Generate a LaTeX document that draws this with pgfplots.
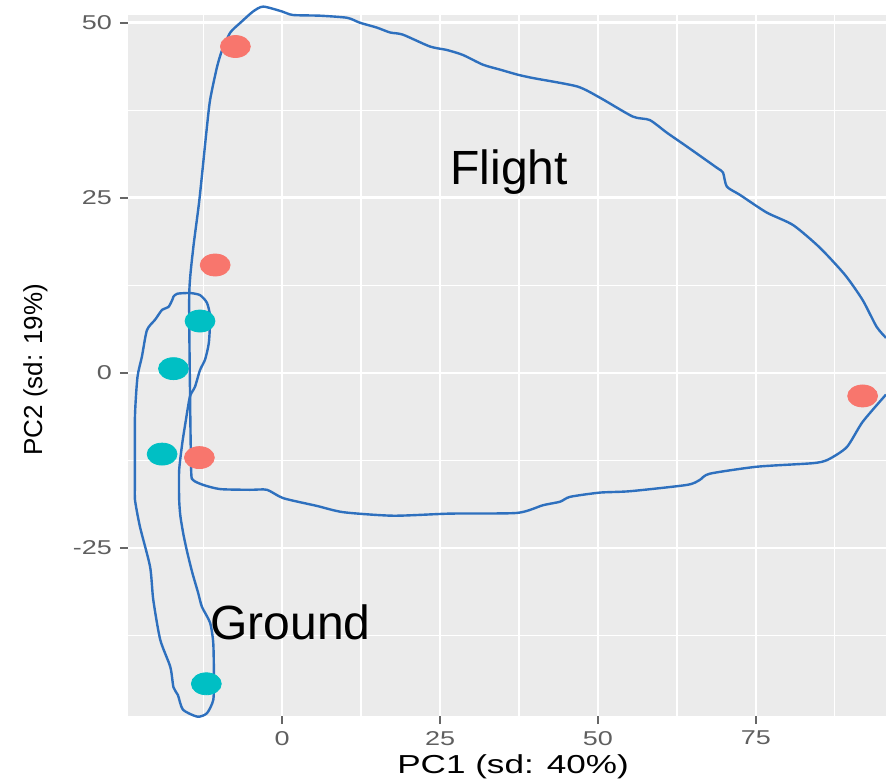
\documentclass[border=0pt]{standalone}
\usepackage{fontspec}
\setmainfont{Liberation Sans}
\newfontfamily\widefont{Liberation Sans}[FakeStretch=1.35]
\usepackage{pgfplots}
\pgfplotsset{compat=1.18}

\definecolor{panelbg}{RGB}{235,235,235}
\definecolor{flightred}{RGB}{248,118,109}
\definecolor{groundteal}{RGB}{0,191,196}
\definecolor{penblue}{RGB}{46,112,190}
\definecolor{ticktext}{RGB}{95,95,95}

\begin{document}
\begin{tikzpicture}
\begin{axis}[
  scale only axis,
  width=379pt, height=350.5pt,
  xmin=-24.4, xmax=95.6,
  ymin=-49.0, ymax=51.1,
  clip=false,
  axis background/.style={fill=panelbg},
  axis line style={draw=none},
  xtick={0,25,50,75}, xticklabels={0,25,50,75},
  ytick={-25,0,25,50}, yticklabels={-25,0,25,50},
  minor xtick={-12.5,12.5,37.5,62.5,87.5},
  minor ytick={-37.5,-12.5,12.5,37.5},
  grid=both,
  major grid style={white, line width=1.3pt},
  minor grid style={white, line width=0.6pt},
  tick pos=left, tick align=outside,
  major tick length=4pt, minor tick length=0pt,
  tick style={black!60, line width=0.9pt},
  ticklabel style={font=\widefont\fontsize{10}{12}\selectfont, text=ticktext},
  yticklabel style={xshift=-0.5pt},
  xlabel={PC1 (sd: 40\%)},
  ylabel={PC2 (sd: 19\%)},
  xlabel style={at={(axis description cs:0.508,0)}, anchor=north, inner sep=0pt,
    yshift=-19pt, font=\widefont\fontsize{13}{15}\selectfont},
  ylabel style={at={(axis description cs:-0.1055,0.494)}, anchor=south, inner sep=0pt,
    font=\fontsize{13}{15}\selectfont},
]
\coordinate (panelsw) at (rel axis cs:0,0);
\coordinate (panelne) at (rel axis cs:1,1);

% Flight samples
\addplot[only marks, mark=*, mark size=5.5pt, color=flightred, mark options={draw=none, fill=flightred, xscale=1.36}]
  coordinates {(-7.4,46.6) (-10.6,15.4) (-13.1,-12.1) (91.9,-3.3)};
% Ground samples
\addplot[only marks, mark=*, mark size=5.5pt, color=groundteal, mark options={draw=none, fill=groundteal, xscale=1.36}]
  coordinates {(-13.0,7.4) (-17.2,0.6) (-19.0,-11.6) (-12.0,-44.4)};

% hand-drawn outline round the flight group (runs off the right edge)
\addplot[penblue, line width=1.2pt, smooth, tension=0.4, no marks]
  coordinates {
  (95.6,-3.1) (91.9,-7.0) (89.4,-10.6) (86.4,-12.4) (84.0,-12.9) (75.2,-13.4)
  (67.7,-14.4) (66.1,-15.3) (64.1,-16.0) (55.1,-16.9) (50.3,-17.1) (45.6,-17.7)
  (44.0,-18.4) (41.3,-18.9) (37.2,-20.0) (26.6,-20.1) (17.6,-20.4) (9.7,-19.9)
  (5.5,-19.0) (0.2,-17.9) (-2.4,-16.7) (-5.1,-16.7) (-9.8,-16.6) (-12.5,-16.0)
  (-14.1,-15.3) (-14.4,-13.9) (-14.6,-1.4) (-14.7,11.4) (-14.1,17.6) (-13.1,24.7)
  (-12.0,34.3) (-11.4,39.0) (-10.3,43.7) (-9.5,46.1) (-8.2,48.6) (-6.6,50.0)
  (-4.6,51.6) (-3.0,52.3) (0.0,51.6) (1.7,51.1) (6.0,51.0) (10.3,50.7)
  (12.3,50.0) (15.0,49.3) (17.1,48.6) (19.1,48.3) (23.4,46.6) (26.1,46.1)
  (28.6,45.4) (31.8,44.0) (34.5,43.3) (37.2,42.6) (39.7,42.1) (46.7,40.9)
  (50.3,39.3) (55.5,36.6) (58.2,36.1) (60.9,34.3) (64.1,32.3) (68.8,29.3)
  (69.8,28.6) (70.4,26.6) (72.5,25.4) (76.7,22.9) (80.9,21.1) (85.1,17.9)
  (89.1,14.0) (91.9,10.4) (94.1,6.6) (95.6,5.0)
  };

% hand-drawn outline round the ground group
\addplot[penblue, line width=1.2pt, smooth, tension=0.4, no marks]
  coordinates {
  (-17.2,10.9) (-16.6,11.3) (-14.6,11.4) (-13.0,11.1) (-11.9,10.0) (-11.4,8.0)
  (-11.6,4.3) (-12.2,1.9) (-13.0,0.4) (-13.8,-2.0) (-14.6,-3.4) (-15.3,-7.1)
  (-15.8,-10.0) (-16.3,-13.9) (-16.3,-18.1) (-16.1,-20.5) (-15.6,-23.2)
  (-15.0,-25.7) (-14.2,-28.6) (-13.3,-31.4) (-12.7,-33.4) (-11.4,-35.7)
  (-10.9,-38.6) (-10.8,-43.4) (-10.9,-46.7) (-11.9,-48.6) (-13.4,-49.1)
  (-15.7,-48.1) (-16.5,-46.0) (-17.2,-44.9) (-17.7,-42.0) (-19.3,-38.1)
  (-20.4,-32.4) (-20.9,-27.7) (-22.5,-22.0) (-23.3,-18.1) (-23.3,-15.7)
  (-23.3,-6.3) (-22.9,-0.6) (-22.2,2.3) (-21.4,6.1) (-20.1,7.6) (-19.0,9.0)
  (-18.0,9.4) (-17.4,10.4) (-17.2,10.9)
  };

\node[anchor=base west, inner sep=0pt, font=\fontsize{24}{28}\selectfont] at (axis cs:26.6,26.9) {Flight};
\node[anchor=base west, inner sep=0pt, font=\fontsize{24}{28}\selectfont] at (axis cs:-11.4,-38.1) {Ground};
\end{axis}
\pgfresetboundingbox
\path ([xshift=-64pt,yshift=-32pt]panelsw) rectangle ([yshift=7.5pt]panelne);
\end{tikzpicture}
\end{document}
